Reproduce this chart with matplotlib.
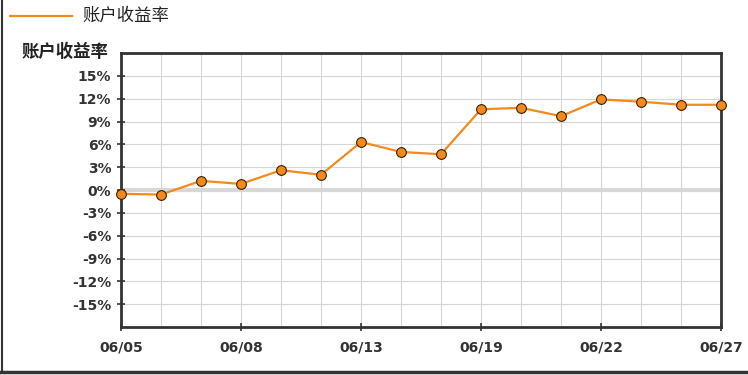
import numpy as np
import matplotlib.pyplot as plt
from matplotlib.lines import Line2D

plt.rcParams['font.family'] = ['DejaVu Sans', 'Noto Sans CJK SC']

SERIES_NAME = '账户收益率'
# one point per trading day, only every third day is labelled on the axis
returns = [-0.5, -0.6, 1.2, 0.8, 2.6, 2.0, 6.3, 5.0, 4.7, 10.6, 10.8, 9.7, 11.9, 11.6, 11.2, 11.2]
tick_pos = [0, 3, 6, 9, 12, 15]
tick_labels = ['06/05', '06/08', '06/13', '06/19', '06/22', '06/27']
y_ticks = [-15, -12, -9, -6, -3, 0, 3, 6, 9, 12, 15]

LINE = '#f28a1e'
DARK = '#333333'

fig = plt.figure(figsize=(7.48, 3.75), dpi=100)
ax = fig.add_axes([121 / 748, 1 - 327 / 375, 600 / 748, 274 / 375])

x = np.arange(len(returns))
ax.axhline(0, color='#d9d9d9', lw=3, zorder=1)
ax.plot(x, returns, color=LINE, lw=1.6, zorder=3, clip_on=False,
        marker='o', ms=7, mfc='#f28a1e', mec='#3a2000', mew=0.8)

ax.set_xlim(0, len(returns) - 1)
ax.set_ylim(-18, 18)
ax.set_xticks(tick_pos)
ax.set_xticklabels(tick_labels)
ax.set_xticks(x, minor=True)
ax.set_yticks(y_ticks)
ax.set_yticklabels([f'{v}%' for v in y_ticks])

ax.grid(True, which='both', axis='x', color='#d6d6d6', lw=0.8, zorder=0)
ax.grid(True, which='major', axis='y', color='#d6d6d6', lw=0.8, zorder=0)
ax.tick_params(which='minor', length=0)
ax.tick_params(which='major', direction='inout', length=6, width=1.2, color=DARK,
               labelcolor=DARK, labelsize=10)
ax.tick_params(axis='x', pad=7)
ax.tick_params(axis='y', pad=4)
for lab in ax.get_xticklabels() + ax.get_yticklabels():
    lab.set_fontweight('bold')
for sp in ax.spines.values():
    sp.set_color(DARK)
    sp.set_linewidth(2)

fig.text(21 / 748, 1 - 52 / 375, SERIES_NAME, family='Noto Sans CJK SC',
         fontsize=12.5, fontweight='bold', color='#222222', va='center')

# legend at the very top
fig.add_artist(Line2D([10 / 748, 72 / 748], [1 - 15.5 / 375, 1 - 15.5 / 375],
                      color=LINE, lw=1.6, transform=fig.transFigure))
fig.text(82 / 748, 1 - 15.5 / 375, SERIES_NAME, family='Noto Sans CJK SC',
         fontsize=12.5, color='#222222', va='center')

# outer frame on left and bottom only
fig.add_artist(Line2D([1.5 / 748, 1.5 / 748], [1 - 372 / 375, 1.0],
                      color=DARK, lw=1.5, transform=fig.transFigure))
fig.add_artist(Line2D([0, 1], [1 - 372 / 375, 1 - 372 / 375],
                      color=DARK, lw=2.5, transform=fig.transFigure))

fig.savefig('out.png', dpi=100)
